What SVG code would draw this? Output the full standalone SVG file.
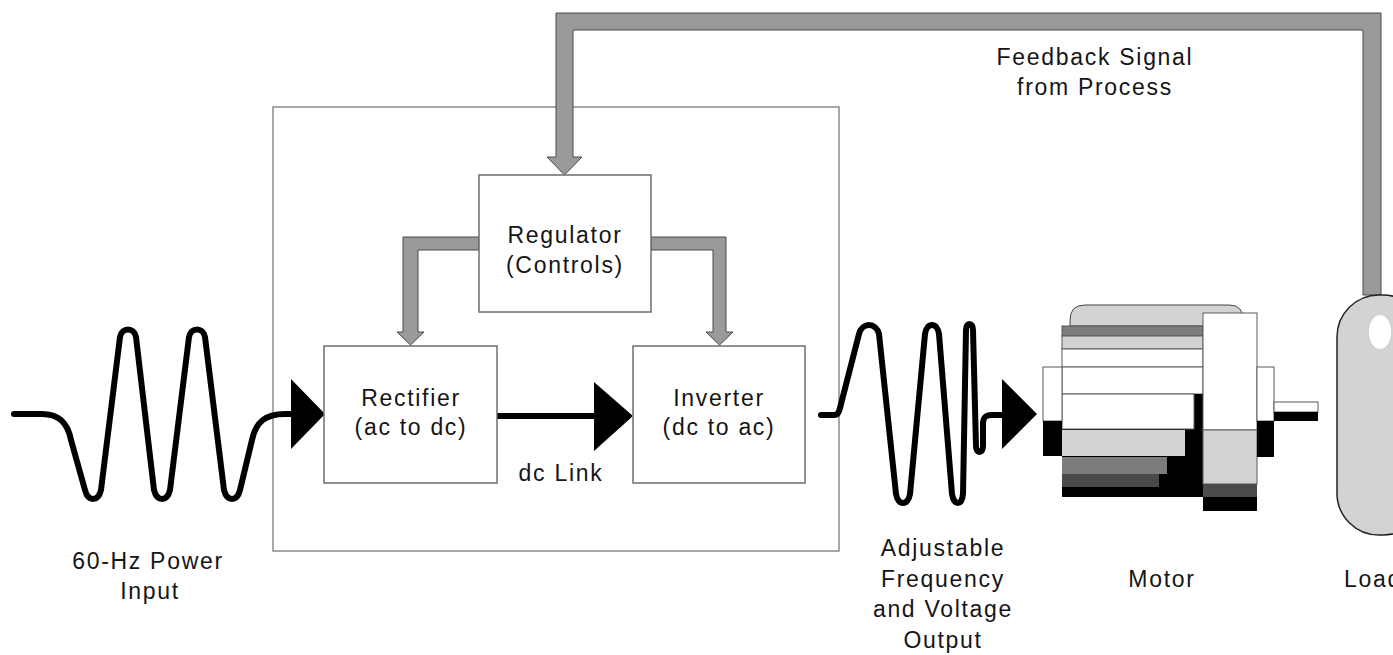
<svg xmlns="http://www.w3.org/2000/svg" width="1393" height="655" viewBox="0 0 1393 655">
  <style>
    .lbl { font-family: "Liberation Sans", Arial, sans-serif; font-size: 23px; letter-spacing: 1.7px; fill: #151515; text-anchor: middle; }
    .box { fill: #ffffff; stroke: #6e6e6e; stroke-width: 1.5; }
    .frame { fill: none; stroke: #7a7a7a; stroke-width: 1.3; }
    .pipe { fill: #9a9a9a; stroke: #4a4a4a; stroke-width: 1; stroke-linejoin: miter; }
    .wave { fill: none; stroke: #000000; stroke-width: 6; stroke-linecap: round; stroke-linejoin: round; }
    .wire { fill: none; stroke: #000000; stroke-width: 6; }
    .head { fill: #000000; }
    .mp { stroke: #5a5a5a; stroke-width: 1; }
  </style>

  <rect width="1393" height="655" fill="#ffffff"/>

  <!-- drive enclosure -->
  <rect id="drive" class="frame" x="273" y="107" width="566" height="444"/>

  <!-- connectors -->
  <g id="connectors">
    <!-- feedback from load back to regulator -->
    <path class="pipe" d="M1381,295 V13 H556 V157 H547 L564.5,175 L582,157 H573 V30 H1363 V295 Z"/>
    <!-- regulator to rectifier -->
    <path class="pipe" d="M479,237 H403 V332 H397 L410.5,345 L424,332 H418 V250 H479 Z"/>
    <!-- regulator to inverter -->
    <path class="pipe" d="M651,237 H726 V332 H733 L719.5,345 L706,332 H713 V250 H651 Z"/>
    <!-- dc link -->
    <line class="wire" x1="497" y1="416" x2="596" y2="416"/>
    <polygon class="head" points="594,382 594,451 633,416"/>
    <!-- input arrow -->
    <polygon class="head" points="291,379 291,449 325,414"/>
    <!-- output arrow -->
    <polygon class="head" points="1002,379 1002,449 1037,414"/>
  </g>

  <!-- 60 Hz input waveform -->
  <g id="input-wave">
    <path class="wave" d="M14,414 H42 C60,414 68,424 71,440 L85,490 C88,502 98,502 101,490 L120,337 C122,327 134,327 136,337 L154,490 C157,502 167,502 170,490 L189,337 C191,327 203,327 205,337 L224,490 C227,502 237,502 240,490 L252,440 C256,422 265,414 285,414 H293"/>
    <text class="lbl" x="148" y="569">60-Hz Power</text>
    <text class="lbl" x="150" y="599">Input</text>
  </g>

  <!-- regulator -->
  <g id="regulator">
    <rect class="box" x="479" y="175" width="172" height="137"/>
    <text class="lbl" x="565" y="243">Regulator</text>
    <text class="lbl" x="565" y="273">(Controls)</text>
  </g>

  <!-- rectifier -->
  <g id="rectifier">
    <rect class="box" x="324" y="346" width="173" height="137"/>
    <text class="lbl" x="411" y="406">Rectifier</text>
    <text class="lbl" x="411" y="435">(ac to dc)</text>
  </g>

  <!-- inverter -->
  <g id="inverter">
    <rect class="box" x="633" y="346" width="172" height="137"/>
    <text class="lbl" x="719" y="406">Inverter</text>
    <text class="lbl" x="719" y="435">(dc to ac)</text>
  </g>

  <g id="dc-link">
    <text class="lbl" x="561" y="481">dc Link</text>
  </g>

  <!-- variable frequency output waveform -->
  <g id="output-wave">
    <path class="wave" d="M821,415 H834 C838,415 839,412 840,408 L859,334 C862,322 876,322 879,334 L896,494 C898,506 908,506 910,494 L925,334 C927,322 937,322 939,334 L952,494 C954,506 962,506 963,494 L966,330 C966,322 973,322 973,330 L976,446 C976,454 983,454 983,446 L983,424 C983,417 986,415 992,415 H1004"/>
    <text class="lbl" x="943" y="556">Adjustable</text>
    <text class="lbl" x="943" y="587">Frequency</text>
    <text class="lbl" x="943" y="617">and Voltage</text>
    <text class="lbl" x="943" y="648">Output</text>
  </g>

  <!-- motor -->
  <g id="motor">
    <!-- top housing -->
    <path d="M1070,326 V320 Q1070,305 1085,305 H1229 Q1243,305 1243,319 V326 Z" fill="#d3d3d3" stroke="#444" stroke-width="1"/>
    <!-- stator stripes -->
    <rect class="mp" x="1062" y="326" width="141" height="10" fill="#7c7c7c"/>
    <rect class="mp" x="1062" y="336" width="141" height="13" fill="#d3d3d3"/>
    <rect class="mp" x="1062" y="349" width="141" height="18" fill="#ffffff"/>
    <rect class="mp" x="1062" y="367" width="141" height="27" fill="#ffffff"/>
    <!-- lower stepped shading -->
    <rect x="1062" y="394" width="141" height="103" fill="#000000"/>
    <rect class="mp" x="1062" y="394" width="132" height="35" fill="#ffffff"/>
    <rect x="1062" y="430" width="123" height="26" fill="#d3d3d3"/>
    <rect x="1062" y="457" width="105" height="17" fill="#7c7c7c"/>
    <rect x="1062" y="474" width="97" height="13" fill="#4a4a4a"/>
    <!-- rear end cap -->
    <rect class="mp" x="1043" y="367" width="19" height="54" fill="#ffffff"/>
    <rect x="1043" y="421" width="19" height="35" fill="#000000"/>
    <!-- front end plate -->
    <rect class="mp" x="1203" y="313" width="54" height="117" fill="#ffffff"/>
    <rect class="mp" x="1203" y="430" width="54" height="54" fill="#d3d3d3"/>
    <rect x="1203" y="484" width="54" height="13" fill="#4a4a4a"/>
    <rect x="1203" y="497" width="54" height="14" fill="#000000"/>
    <!-- front bearing cap -->
    <rect class="mp" x="1257" y="367" width="17" height="54" fill="#ffffff"/>
    <rect x="1257" y="421" width="17" height="36" fill="#000000"/>
    <!-- shaft -->
    <rect class="mp" x="1274" y="402" width="44" height="10" fill="#ffffff"/>
    <rect x="1274" y="412" width="44" height="9" fill="#000000"/>
    <text class="lbl" x="1162" y="587">Motor</text>
  </g>

  <!-- load -->
  <g id="load">
    <rect x="1337" y="295" width="88" height="240" rx="42" ry="42" fill="#d3d3d3" stroke="#222" stroke-width="1.5"/>
    <ellipse cx="1380" cy="332" rx="11" ry="17" fill="#ffffff"/>
    <text class="lbl" x="1344" y="587" style="text-anchor: start">Load</text>
  </g>

  <!-- feedback label -->
  <g id="feedback-label">
    <text class="lbl" x="1095" y="65">Feedback Signal</text>
    <text class="lbl" x="1095" y="95">from Process</text>
  </g>
</svg>
